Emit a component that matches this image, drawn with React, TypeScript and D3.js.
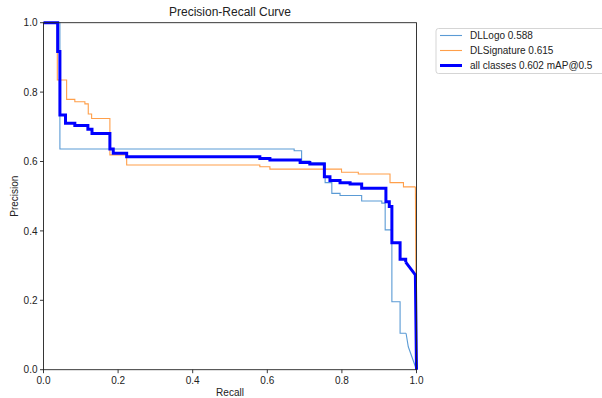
import React from "react";
import * as d3 from "d3";

// Precision-recall steps per class (recall where precision changes, precision from there on)
const logoRecall = [0, 0.044, 0.672, 0.692, 0.714, 0.755, 0.773, 0.795, 0.853, 0.907, 0.916, 0.934, 0.956, 0.972];
const logoPrecision = [1.0, 0.636, 0.631, 0.601, 0.596, 0.539, 0.508, 0.502, 0.486, 0.48, 0.403, 0.196, 0.105, 0.105];
const logoTailRecall = [0.972, 0.978, 1.0];
const logoTailPrecision = [0.105, 0.066, 0.0];

const sigRecall = [0, 0.037, 0.062, 0.084, 0.111, 0.12, 0.129, 0.178, 0.223, 0.58, 0.607, 0.799, 0.844, 0.929, 0.965, 0.997];
const sigPrecision = [1.0, 0.835, 0.779, 0.772, 0.766, 0.737, 0.724, 0.619, 0.59, 0.585, 0.578, 0.569, 0.564, 0.539, 0.527, 0.527];
const sigTailRecall = [0.997, 1.0];
const sigTailPrecision = [0.527, 0.0];

const allRecall = [0, 0.038, 0.044, 0.059, 0.084, 0.119, 0.13, 0.178, 0.187, 0.223, 0.58, 0.607, 0.688, 0.714, 0.753, 0.768, 0.795, 0.822, 0.853, 0.918, 0.927, 0.934, 0.956, 0.971];
const allPrecision = [1.0, 0.917, 0.734, 0.71, 0.704, 0.693, 0.681, 0.636, 0.624, 0.614, 0.609, 0.604, 0.597, 0.593, 0.556, 0.545, 0.539, 0.535, 0.523, 0.484, 0.47, 0.366, 0.318, 0.31];
const allTailRecall = [0.971, 0.997, 1.0];
const allTailPrecision = [0.31, 0.273, 0.0];

const seriesNames = ["DLLogo 0.588", "DLSignature 0.615", "all classes 0.602 mAP@0.5"];
const seriesColors = ["#5b9bd5", "#ff9f4a", "#0000ff"];
const seriesWidths = [1.1, 1.1, 3];

const ticks = [0, 0.2, 0.4, 0.6, 0.8, 1.0];

const W = 602;
const H = 398;
const FONT = "'Liberation Sans', Arial, sans-serif";

export default function App() {
  const x = d3.scaleLinear().domain([0, 1]).range([43.5, 416.5]);
  const y = d3.scaleLinear().domain([0, 1]).range([369.7, 22.7]);

  const step = d3
    .line<[number, number]>()
    .x((d) => x(d[0]))
    .y((d) => y(d[1]))
    .curve(d3.curveStepAfter);
  const straight = d3
    .line<[number, number]>()
    .x((d) => x(d[0]))
    .y((d) => y(d[1]));

  const zip = (a: number[], b: number[]) => a.map((v, i) => [v, b[i]] as [number, number]);

  const series = [
    { steps: zip(logoRecall, logoPrecision), tail: zip(logoTailRecall, logoTailPrecision) },
    { steps: zip(sigRecall, sigPrecision), tail: zip(sigTailRecall, sigTailPrecision) },
    { steps: zip(allRecall, allPrecision), tail: zip(allTailRecall, allTailPrecision) },
  ];

  const [x0, x1] = x.range();
  const [y0, y1] = y.range();

  return (
    <svg
      width={W}
      height={H}
      style={{ position: "absolute", left: 0, top: 0, background: "#fff" }}
      fontFamily={FONT}
    >
      <rect x={0} y={0} width={W} height={H} fill="#fff" />

      {/* curves */}
      <g fill="none" strokeLinejoin="miter">
        {series.map((s, i) => (
          <g key={i} stroke={seriesColors[i]} strokeWidth={seriesWidths[i]}>
            <path d={step(s.steps) || ""} />
            <path d={straight(s.tail) || ""} />
          </g>
        ))}
      </g>

      {/* axes frame */}
      <rect x={x0} y={y1} width={x1 - x0} height={y0 - y1} fill="none" stroke="#222" strokeWidth={0.9} />

      {/* x ticks */}
      {ticks.map((t) => (
        <g key={"x" + t}>
          <line x1={x(t)} x2={x(t)} y1={y0} y2={y0 + 3.5} stroke="#222" strokeWidth={0.9} />
          <text x={x(t)} y={y0 + 14} fontSize={10} textAnchor="middle" fill="#222">
            {t.toFixed(1)}
          </text>
        </g>
      ))}
      {/* y ticks */}
      {ticks.map((t) => (
        <g key={"y" + t}>
          <line x1={x0 - 3.5} x2={x0} y1={y(t)} y2={y(t)} stroke="#222" strokeWidth={0.9} />
          <text x={x0 - 6} y={y(t) + 3.6} fontSize={10} textAnchor="end" fill="#222">
            {t.toFixed(1)}
          </text>
        </g>
      ))}

      <text x={(x0 + x1) / 2} y={396} fontSize={10} textAnchor="middle" fill="#222">
        Recall
      </text>
      <text
        transform={`translate(18, ${(y0 + y1) / 2}) rotate(-90)`}
        fontSize={10}
        textAnchor="middle"
        fill="#222"
      >
        Precision
      </text>
      <text x={(x0 + x1) / 2} y={16} fontSize={12} textAnchor="middle" fill="#222">
        Precision-Recall Curve
      </text>

      {/* legend */}
      <g>
        <rect x={436} y={28.5} width={170} height={45} rx={2.5} fill="#fff" fillOpacity={0.8} stroke="#d0d0d0" strokeWidth={0.9} />
        {seriesNames.map((n, i) => (
          <g key={n}>
            <line
              x1={440}
              x2={462}
              y1={35.5 + i * 15}
              y2={35.5 + i * 15}
              stroke={seriesColors[i]}
              strokeWidth={seriesWidths[i]}
            />
            <text x={470} y={39 + i * 15} fontSize={10} fill="#222">
              {n}
            </text>
          </g>
        ))}
      </g>
    </svg>
  );
}
